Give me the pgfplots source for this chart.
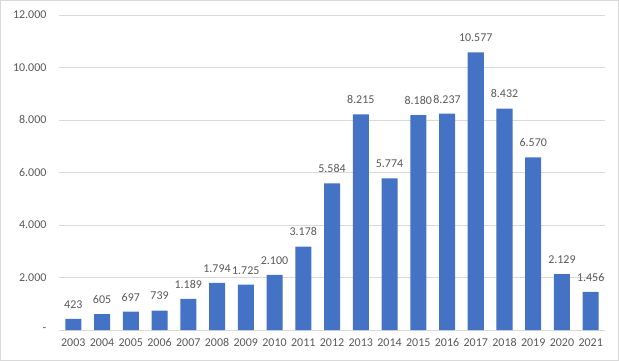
\documentclass[border=0pt]{standalone}
\usepackage{pgfplots}
\pgfplotsset{compat=1.18}
\usepackage{fontspec}
\setmainfont{Carlito}
\definecolor{barblue}{HTML}{4472C4}
\definecolor{txtgray}{HTML}{595959}
\definecolor{gridgray}{HTML}{D9D9D9}
\begin{document}
\begin{tikzpicture}[x=1bp,y=1bp]
\draw[gridgray, line width=0.8bp] (0.5,0.5) rectangle (618.5,360.5);
\begin{axis}[
  at={(59bp,31bp)}, anchor=south west,
  scale only axis, width=546bp, height=315bp,
  xmin=-0.5, xmax=18.5, ymin=0, ymax=12000,
  scaled y ticks=false,
  xtick={0,...,18},
  xticklabels={2003,2004,2005,2006,2007,2008,2009,2010,2011,2012,2013,2014,2015,2016,2017,2018,2019,2020,2021},
  ytick={0,2000,4000,6000,8000,10000,12000},
  yticklabels={-\hspace{10bp},2.000,4.000,6.000,8.000,10.000,12.000},
  ymajorgrids, grid style={gridgray, line width=0.8bp},
  axis x line*=bottom, axis y line*=left,
  x axis line style={draw=gridgray, line width=0.8bp, -},
  y axis line style={draw=none},
  major tick length=0pt,
  tick label style={font=\fontsize{12}{14}\selectfont, text=txtgray},
  yticklabel style={xshift=-9bp},
  xticklabel style={yshift=-5bp},
  clip=false,
  ybar, bar width=16bp,
  nodes near coords,
  nodes near coords style={font=\fontsize{12}{14}\selectfont, text=txtgray, anchor=south, yshift=7bp, /pgf/number format/.cd, 1000 sep={.}, assume math mode=true},
]
\addplot[fill=barblue, draw=none] coordinates {
(0,423) (1,605) (2,697) (3,739) (4,1189) (5,1794) (6,1725) (7,2100) (8,3178) (9,5584) (10,8215) (11,5774) (12,8180) (13,8237) (14,10577) (15,8432) (16,6570) (17,2129) (18,1456)};
\end{axis}
\end{tikzpicture}
\end{document}
